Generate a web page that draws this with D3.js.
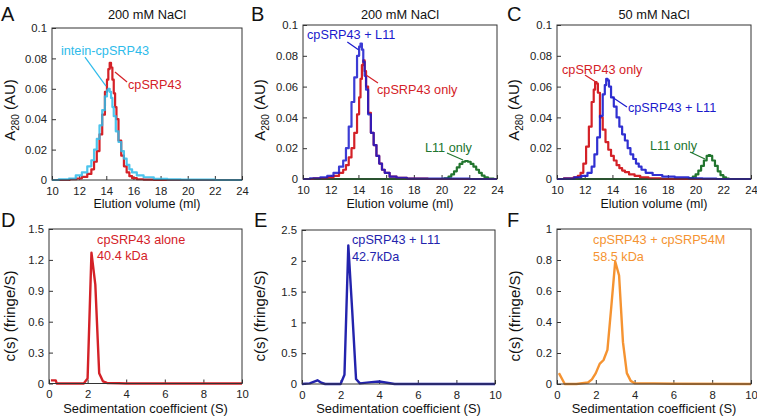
<!DOCTYPE html>
<html><head><meta charset="utf-8">
<script src="https://cdn.jsdelivr.net/npm/d3@7"></script>
<style>
body{margin:0;background:#fff}
svg{display:block}
text{font-family:"Liberation Sans",Arial,Helvetica,sans-serif}
</style>
</head><body>
<svg id="chart" width="757" height="417"></svg>
<script>
// ---------- tick values ----------
const secXTicks = [10, 12, 14, 16, 18, 20, 22, 24];
const secYTicks = [0, 0.02, 0.04, 0.06, 0.08, 0.1];
const aucXTicks = [0, 2, 4, 6, 8, 10];
const dYTicks = [0, 0.3, 0.6, 0.9, 1.2, 1.5];
const eYTicks = [0, 0.5, 1, 1.5, 2, 2.5];
const fYTicks = [0, 0.2, 0.4, 0.6, 0.8, 1];

// ---------- Panel A (200 mM NaCl) : [elution ml, A280] ----------
const aCpSRP43 = [[10,0],[11,0],[11.6,0.0005],[12,0.001],[12.4,0.002],[12.8,0.004],[13.0,0.007],[13.2,0.012],[13.4,0.019],[13.6,0.03],[13.8,0.043],[14.0,0.058],[14.1,0.066],[14.2,0.073],[14.3,0.077],[14.4,0.074],[14.5,0.066],[14.6,0.057],[14.7,0.048],[14.8,0.04],[15.0,0.026],[15.2,0.016],[15.4,0.009],[15.6,0.005],[15.8,0.0025],[16.0,0.0012],[16.5,0.0005],[17,0.0002],[18,0],[24,0]];
const aIntein = [[10,0],[11,0.0005],[11.5,0.001],[12,0.003],[12.4,0.005],[12.8,0.009],[13.0,0.013],[13.2,0.02],[13.4,0.027],[13.6,0.036],[13.8,0.046],[14.0,0.055],[14.1,0.059],[14.2,0.06],[14.3,0.058],[14.4,0.054],[14.5,0.048],[14.6,0.042],[14.8,0.032],[15.0,0.025],[15.2,0.019],[15.4,0.014],[15.6,0.01],[15.8,0.007],[16.0,0.005],[16.5,0.003],[17,0.0018],[18,0.0008],[19,0.0004],[20,0.0002],[24,0]];

// ---------- Panel B (200 mM NaCl) ----------
const bComplex = [[10,0],[11,0.0005],[11.5,0.001],[12,0.002],[12.4,0.004],[12.8,0.008],[13.0,0.012],[13.2,0.02],[13.4,0.034],[13.6,0.05],[13.8,0.066],[14.0,0.08],[14.1,0.086],[14.2,0.088],[14.3,0.084],[14.4,0.076],[14.5,0.067],[14.6,0.058],[14.8,0.042],[15.0,0.03],[15.2,0.022],[15.4,0.015],[15.6,0.01],[15.8,0.006],[16.0,0.004],[16.5,0.0015],[17,0.0008],[18,0.0003],[20,0.0002],[24,0]];
const bCpSRP43 = [[10,0],[11.5,0.0005],[12,0.001],[12.4,0.002],[12.8,0.004],[13.0,0.006],[13.2,0.009],[13.4,0.014],[13.6,0.02],[13.8,0.03],[14.0,0.042],[14.1,0.053],[14.2,0.065],[14.3,0.074],[14.4,0.077],[14.5,0.07],[14.6,0.06],[14.8,0.043],[15.0,0.03],[15.2,0.022],[15.4,0.015],[15.6,0.01],[15.8,0.006],[16.0,0.004],[16.5,0.0015],[17,0.0008],[18,0.0003],[20,0],[24,0]];
const bL11 = [[10,0],[20,0],[20.4,0.0005],[20.6,0.0015],[20.8,0.003],[21.0,0.005],[21.2,0.0075],[21.4,0.0098],[21.6,0.0112],[21.8,0.0117],[22.0,0.0112],[22.2,0.0098],[22.4,0.008],[22.6,0.006],[22.8,0.004],[23.0,0.0022],[23.2,0.001],[23.5,0.0003],[24,0]];

// ---------- Panel C (50 mM NaCl) ----------
const cCpSRP43 = [[10,0],[11,0.0005],[11.4,0.001],[11.6,0.002],[11.8,0.004],[12.0,0.01],[12.2,0.021],[12.4,0.034],[12.6,0.05],[12.7,0.058],[12.8,0.063],[12.9,0.062],[13.0,0.056],[13.2,0.04],[13.4,0.032],[13.6,0.024],[13.8,0.019],[14.0,0.015],[14.2,0.012],[14.4,0.009],[14.6,0.007],[14.8,0.0055],[15.0,0.0045],[15.4,0.003],[15.8,0.002],[16.2,0.001],[17,0.0005],[18,0],[24,0]];
const cComplex = [[10,0],[11,0.0003],[11.5,0.001],[12,0.002],[12.4,0.004],[12.6,0.008],[12.8,0.016],[13.0,0.027],[13.2,0.041],[13.4,0.055],[13.5,0.061],[13.6,0.065],[13.7,0.064],[13.8,0.06],[14.0,0.053],[14.2,0.047],[14.4,0.04],[14.6,0.034],[14.8,0.029],[15.0,0.025],[15.2,0.02],[15.4,0.016],[15.6,0.013],[15.8,0.01],[16.0,0.008],[16.2,0.006],[16.6,0.004],[17.2,0.0026],[18,0.0015],[19,0.001],[20,0.0005],[21,0.0003],[22,0],[24,0]];
const cL11 = [[10,0],[19.4,0],[19.7,0.0005],[19.9,0.0015],[20.1,0.003],[20.3,0.0055],[20.5,0.0085],[20.7,0.012],[20.9,0.015],[21.0,0.0156],[21.1,0.015],[21.3,0.012],[21.5,0.0085],[21.7,0.005],[21.9,0.0025],[22.1,0.001],[22.3,0.0003],[22.5,0],[24,0]];

// ---------- Panels D-F (AUC c(s) distributions) : [S, c(s)] ----------
const dAlone = [[0.1,0.03],[0.35,0.03],[0.4,0],[1.8,0],[2.0,0.05],[2.2,1.27],[2.4,0.96],[2.6,0.1],[2.8,0.02],[3.0,0.005],[3.6,0.003],[4,0],[10,0]];
const eComplex = [[0,0],[0.4,0.01],[0.8,0.06],[1.0,0.02],[1.2,0],[2.0,0],[2.2,0.15],[2.4,2.25],[2.6,1.2],[2.8,0.08],[3.0,0.01],[3.6,0.03],[4.0,0.04],[4.4,0.02],[4.8,0],[10,0]];
const fComplex = [[0.1,0.07],[0.4,0],[1.0,0],[1.6,0.01],[1.8,0.03],[2.0,0.07],[2.2,0.13],[2.4,0.155],[2.6,0.22],[2.8,0.5],[3.0,0.79],[3.2,0.7],[3.4,0.27],[3.6,0.07],[3.8,0.02],[4.0,0.005],[5,0.004],[6,0.002],[10,0]];

// ---------- colours ----------
const RED = "#d42127", CYAN = "#2ebbea", BLUE = "#1a1acc", GREEN = "#22752e", ORANGE = "#f59331", DBLUE = "#2323ad";

const svg = d3.select("#chart");

function panel(cfg){
  const g = svg.append("g");
  const x = d3.scaleLinear().domain(cfg.xd).range([cfg.l, cfg.r]);
  const y = d3.scaleLinear().domain(cfg.yd).range([cfg.b, cfg.t]);

  const xa = d3.axisBottom(x).tickValues(cfg.xt).tickSizeInner(-4).tickSizeOuter(0).tickPadding(6.5).tickFormat(d => String(d));
  const ya = d3.axisLeft(y).tickValues(cfg.yt).tickSizeInner(-4).tickSizeOuter(0).tickPadding(5).tickFormat(d => String(d));
  const gx = g.append("g").attr("transform", `translate(0,${cfg.b})`).call(xa);
  const gy = g.append("g").attr("transform", `translate(${cfg.l},0)`).call(ya);
  [gx, gy].forEach(a => {
    a.select(".domain").remove();
    a.selectAll(".tick line").attr("stroke", "#333");
    a.selectAll(".tick text").attr("fill", "#222").style("font-size", "11.3px").style("font-family", '"Liberation Sans",Arial,sans-serif');
  });

  const line = d3.line().x(d => x(d[0])).y(d => y(d[1])).curve(cfg.curve);
  cfg.series.forEach(s => {
    g.append("path").datum(s.data).attr("d", line)
      .attr("fill", "none").attr("stroke", s.color).attr("stroke-width", s.w || 2.2)
      .attr("stroke-opacity", s.op || 1).attr("stroke-linejoin", "round");
  });

  g.append("rect").attr("x", cfg.l).attr("y", cfg.t).attr("width", cfg.r - cfg.l).attr("height", cfg.b - cfg.t)
    .attr("fill", "none").attr("stroke", "#333").attr("stroke-width", 1);

  (cfg.leaders || []).forEach(ld => {
    g.append("line").attr("x1", x(ld.a[0])).attr("y1", y(ld.a[1])).attr("x2", x(ld.b[0])).attr("y2", y(ld.b[1]))
      .attr("stroke", ld.color).attr("stroke-width", 1.2);
  });
  (cfg.labels || []).forEach(lb => {
    g.append("text").attr("x", x(lb.p[0])).attr("y", y(lb.p[1])).attr("fill", lb.color)
      .style("font-size", "12.7px").text(lb.text);
  });

  g.append("text").attr("x", cfg.letterX).attr("y", cfg.letterY).style("font-size", "20px").attr("fill", "#111").text(cfg.letter);
  if (cfg.title) g.append("text").attr("x", (cfg.l + cfg.r) / 2).attr("y", 19).attr("text-anchor", "middle")
    .style("font-size", "12.8px").attr("fill", "#111").text(cfg.title);
  g.append("text").attr("x", (cfg.l + cfg.r) / 2).attr("y", cfg.xTitleY).attr("text-anchor", "middle")
    .style("font-size", cfg.xTitleSize).attr("fill", "#111").text(cfg.xTitle);
  const yt = g.append("text").attr("transform", `translate(${cfg.yTitleX},${cfg.yTitleY}) rotate(-90)`)
    .attr("text-anchor", "middle").style("font-size", cfg.yTitleSize).attr("fill", "#111");
  if (cfg.yTitle === "A280") {
    yt.append("tspan").text("A");
    yt.append("tspan").attr("dy", 3.5).style("font-size", "10px").text("280");
    yt.append("tspan").attr("dy", -3.5).text(" (AU)");
  } else {
    yt.text(cfg.yTitle);
  }
}

const secCfg = {xd:[10,24], yd:[0,0.1], xt:secXTicks, yt:secYTicks, curve:d3.curveStep, xTitle:"Elution volume (ml)", xTitleY:208, xTitleSize:"12.5px", yTitle:"A280", yTitleY:110, yTitleSize:"15px", letterY:21};
const aucCfg = {xd:[0,10], xt:aucXTicks, curve:d3.curveLinear, xTitle:"Sedimentation coefficient (S)", xTitleY:412.5, xTitleSize:"12.9px", yTitle:"c(s) (fringe/S)", yTitleY:316, yTitleSize:"15px", letterY:227};

panel(Object.assign({}, secCfg, {l:52, r:242, t:28, b:180, letter:"A", letterX:1, yTitleX:15, title:"200 mM NaCl",
  series:[{data:aCpSRP43, color:RED}, {data:aIntein, color:CYAN, op:0.85}],
  labels:[{text:"intein-cpSRP43", p:[10.66,0.0822], color:CYAN}, {text:"cpSRP43", p:[15.6,0.0599], color:RED}],
  leaders:[{a:[12.43,0.0809], b:[13.98,0.0618], color:CYAN}, {a:[14.64,0.0711], b:[15.53,0.0645], color:RED}]}));

panel(Object.assign({}, secCfg, {l:303, r:497, t:25, b:179, letter:"B", letterX:251, yTitleX:265, title:"200 mM NaCl",
  series:[{data:bL11, color:GREEN}, {data:bCpSRP43, color:RED}, {data:bComplex, color:BLUE, op:0.85}],
  labels:[{text:"cpSRP43 + L11", p:[10.29,0.0909], color:BLUE}, {text:"cpSRP43 only", p:[15.34,0.0552], color:RED}, {text:"L11 only", p:[18.8,0.0175], color:GREEN}],
  leaders:[{a:[13.2,0.089], b:[14.0,0.084], color:BLUE}, {a:[14.55,0.0675], b:[15.41,0.0623], color:RED}, {a:[20.39,0.0169], b:[21.55,0.0123], color:GREEN}]}));

panel(Object.assign({}, secCfg, {l:557, r:751, t:25, b:179, letter:"C", letterX:507, yTitleX:519, title:"50 mM NaCl",
  series:[{data:cL11, color:GREEN}, {data:cCpSRP43, color:RED}, {data:cComplex, color:BLUE, op:0.9}],
  labels:[{text:"cpSRP43 only", p:[10.36,0.0682], color:RED}, {text:"cpSRP43 + L11", p:[15.12,0.0435], color:BLUE}, {text:"L11 only", p:[16.71,0.0188], color:GREEN}],
  leaders:[{a:[12.02,0.0675], b:[12.81,0.063], color:RED}, {a:[13.97,0.0532], b:[15.05,0.0468], color:BLUE}, {a:[19.6,0.0175], b:[20.68,0.013], color:GREEN}]}));

panel(Object.assign({}, aucCfg, {l:49, r:242, t:229, b:383.5, yd:[0,1.5], yt:dYTicks, letter:"D", letterX:1, yTitleX:15,
  series:[{data:dAlone, color:RED, w:2.4}],
  labels:[{text:"cpSRP43 alone", p:[2.49,1.354], color:RED}, {text:"40.4 kDa", p:[2.49,1.199], color:RED}]}));

panel(Object.assign({}, aucCfg, {l:302, r:495, t:230, b:384, yd:[0,2.5], yt:eYTicks, letter:"E", letterX:254, yTitleX:265,
  series:[{data:eComplex, color:DBLUE, w:2.4}],
  labels:[{text:"cpSRP43 + L11", p:[2.59,2.273], color:DBLUE}, {text:"42.7kDa", p:[2.59,1.997], color:DBLUE}]}));

panel(Object.assign({}, aucCfg, {l:557, r:751, t:229, b:384, yd:[0,1], yt:fYTicks, letter:"F", letterX:507, yTitleX:520,
  series:[{data:fComplex, color:ORANGE, w:2.4}],
  labels:[{text:"cpSRP43 + cpSRP54M", p:[1.86,0.903], color:ORANGE}, {text:"58.5 kDa", p:[1.86,0.794], color:ORANGE}]}));
</script>
</body></html>
